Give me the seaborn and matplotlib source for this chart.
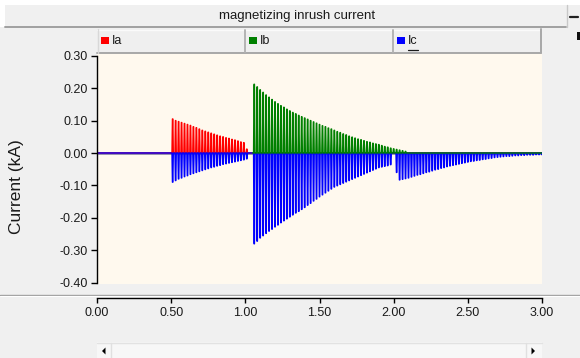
import numpy as np
import pandas as pd
import matplotlib
matplotlib.use("Agg")
import matplotlib.pyplot as plt
import seaborn as sns
from matplotlib.patches import Rectangle, Polygon
from matplotlib.lines import Line2D

# ---------------- data ----------------
title = "magnetizing inrush current"
phases = ["Ia", "Ib", "Ic"]
phase_colors = ["#FF0000", "#008000", "#0000FF"]
y_label = "Current (kA)"
x_ticks = [0.0, 0.5, 1.0, 1.5, 2.0, 2.5, 3.0]
x_tick_labels = ["0.00", "0.50", "1.00", "1.50", "2.00", "2.50", "3.00"]
y_ticks = [0.3, 0.2, 0.1, 0.0, -0.1, -0.2, -0.3, -0.4]
y_tick_labels = ["0.30", "0.20", "0.10", "0.00", "-0.10", "-0.20", "-0.30", "-0.40"]

t_end = 3.0
period = 0.02  # one pulse per 50 Hz cycle

# phase A: energised at ~0.51 s
ia_start = 0.51
ia_peaks = [0.105, 0.100, 0.097, 0.094, 0.091, 0.088, 0.085, 0.081, 0.078, 0.074,
            0.070, 0.067, 0.064, 0.061, 0.058, 0.055, 0.052, 0.050, 0.047, 0.045,
            0.042, 0.040, 0.037, 0.034, 0.032, 0.012]

# phase B: energised at ~1.06 s
ib_start = 1.06
ib_peaks = [0.212, 0.204, 0.195, 0.187, 0.179, 0.172, 0.165, 0.158, 0.152, 0.146,
            0.141, 0.135, 0.130, 0.125, 0.121, 0.116, 0.112, 0.108, 0.104, 0.100,
            0.096, 0.092, 0.088, 0.084, 0.081, 0.077, 0.074, 0.070, 0.066, 0.063,
            0.059, 0.056, 0.052, 0.049, 0.046, 0.043, 0.041, 0.038, 0.035, 0.033,
            0.030, 0.028, 0.026, 0.023, 0.020, 0.018, 0.015, 0.013, 0.011, 0.009,
            0.007, 0.005]

# phase C: three inrush events
ic_start1 = 0.51
ic_peaks1 = [-0.090, -0.085, -0.080, -0.077, -0.073, -0.070, -0.066, -0.063, -0.060, -0.057,
             -0.054, -0.051, -0.048, -0.045, -0.043, -0.040, -0.038, -0.035, -0.033, -0.031,
             -0.029, -0.027, -0.025, -0.023, -0.021, -0.018]
ic_start2 = 1.06
ic_peaks2 = [-0.280, -0.272, -0.262, -0.255, -0.248, -0.241, -0.235, -0.228, -0.222, -0.215,
             -0.209, -0.203, -0.197, -0.191, -0.185, -0.180, -0.174, -0.168, -0.161, -0.155,
             -0.148, -0.142, -0.135, -0.129, -0.123, -0.117, -0.111, -0.105, -0.101, -0.097,
             -0.093, -0.089, -0.085, -0.081, -0.077, -0.073, -0.069, -0.065, -0.061, -0.057,
             -0.053, -0.049, -0.045, -0.043, -0.041, -0.039, -0.036]
ic_start3 = 2.02
ic_peaks3 = [-0.060, -0.083, -0.081, -0.079, -0.077, -0.074, -0.071, -0.068, -0.066, -0.063,
             -0.060, -0.058, -0.055, -0.052, -0.050, -0.047, -0.045, -0.042, -0.040, -0.038,
             -0.036, -0.034, -0.032, -0.030, -0.028, -0.026, -0.025, -0.023, -0.022, -0.020,
             -0.019, -0.017, -0.016, -0.014, -0.013, -0.012, -0.011, -0.010, -0.010, -0.009,
             -0.008, -0.008, -0.007, -0.007, -0.006, -0.006, -0.006, -0.005, -0.005, -0.005]

# ---------------- build waveform table ----------------
HW = 0.0045  # half width of each drawn pulse (style)


def waveform(segments, t0):
    ts, vs = [t0], [0.0]
    for start, peaks in segments:
        for k, p in enumerate(peaks):
            tk = start + k * period
            ts += [tk - HW, tk - HW * 0.3, tk + HW * 0.3, tk + HW]
            vs += [0.0, p, p, 0.0]
    ts.append(t_end)
    vs.append(0.0)
    return ts, vs


rows = []
for name, segs, t0 in [
    ("Ia", [(ia_start, ia_peaks)], 0.0),
    ("Ib", [(ib_start, ib_peaks)], ib_start - period / 2),
    ("Ic", [(ic_start1, ic_peaks1), (ic_start2, ic_peaks2), (ic_start3, ic_peaks3)], 0.0),
]:
    ts, vs = waveform(segs, t0)
    rows.append(pd.DataFrame({"time": ts, "current": vs, "phase": name}))
df = pd.concat(rows, ignore_index=True)

# ---------------- figure ----------------
sns.set_style("ticks")
plt.rcParams["font.family"] = ["Liberation Sans", "DejaVu Sans"]

W, H = 580, 358
BG = "#F0F0F0"


def fx(x):
    return x / W


def fy(y):
    return 1 - y / H


fig = plt.figure(figsize=(W / 100, H / 100), dpi=100, facecolor=BG)
ax = fig.add_axes([fx(97), fy(284), fx(542) - fx(97), fy(53) - fy(284)])
ax.set_facecolor("#FFF9EE")

ax.axhline(0, color="#8080A0", lw=1.9, zorder=1)
sns.lineplot(data=df, x="time", y="current", hue="phase",
             hue_order=["Ia", "Ic", "Ib"],
             palette=dict(zip(phases, phase_colors)),
             sort=False, estimator=None, linewidth=1.0, legend=False, ax=ax, zorder=2)

ax.set_xlim(0, 3.0)
ax.set_ylim(-0.404, 0.3084)
ax.set_xticks(x_ticks, x_tick_labels)
ax.set_yticks(y_ticks, y_tick_labels)
ax.set_xlabel("")
ax.set_ylabel("")
for s in ["top", "right"]:
    ax.spines[s].set_visible(False)
ax.spines["left"].set_bounds(-0.4, 0.3)
ax.spines["left"].set_color("#000000")
ax.spines["left"].set_linewidth(1.0)
ax.spines["bottom"].set_position(("outward", 10))
ax.spines["bottom"].set_bounds(0, 3.0)
ax.spines["bottom"].set_color("#000000")
ax.spines["bottom"].set_linewidth(1.0)
ax.tick_params(axis="y", direction="out", length=4.3, width=1, colors="#000000",
               labelsize=9, pad=2, labelcolor="#1a1a1a")
ax.tick_params(axis="x", direction="out", length=3.6, width=1, colors="#000000",
               labelsize=9, pad=3, labelcolor="#1a1a1a")

fig.text(fx(17), fy(187), y_label, rotation=90, ha="center", va="center",
         fontsize=12.5, color="#1a1a1a")

T = fig.transFigure


def hline(y, x0, x1, color, lw):
    fig.add_artist(Line2D([fx(x0), fx(x1)], [fy(y), fy(y)], transform=T, color=color, lw=lw))


def vline(x, y0, y1, color, lw):
    fig.add_artist(Line2D([fx(x), fx(x)], [fy(y0), fy(y1)], transform=T, color=color, lw=lw))


def rect(x0, y0, x1, y1, fc, ec="none", lw=0):
    fig.add_artist(Rectangle((fx(x0), fy(y1)), fx(x1) - fx(x0), fy(y0) - fy(y1),
                             transform=T, facecolor=fc, edgecolor=ec, lw=lw))


# top white border + title bar
rect(0, 0, 580, 5, "#FFFFFF")
rect(0, 0, 5, 27, "#FFFFFF")
rect(5, 5, 566, 26, BG)
hline(26.5, 5, 566, "#A0A0A0", 1.4)
vline(566.5, 5, 27, "#C8C8C8", 1.0)
fig.text(fx(297), fy(16), title, ha="center", va="center", fontsize=9.5, color="#1a1a1a")
hline(17, 570, 578, "#202020", 1.6)
rect(577, 32, 580, 40, "#101010")

# legend bar
rect(97, 29, 541, 53, "#EFEFEF")
hline(29.5, 97, 541, "#FAFAFA", 1.0)
hline(52.5, 97, 541, "#A8A8A8", 1.4)
vline(97.5, 29, 53, "#D8D8D8", 1.0)
vline(541, 29, 53, "#A8A8A8", 1.4)
for i, (name, col) in enumerate(zip(phases, phase_colors)):
    cx = 97 + 148 * i
    if i > 0:
        vline(cx, 30, 52, "#B4B4B4", 1.4)
    rect(cx + 4, 37, cx + 12, 44, col)
    fig.text(fx(cx + 15), fy(41.5), name, ha="left", va="center", fontsize=9, color="#1a1a1a")
    if name == "Ic":
        hline(50, cx + 15, cx + 25, "#1a1a1a", 0.9)

# separator above x axis strip
hline(295, 0, 580, "#A0A0A0", 1.0)
hline(296.2, 0, 580, "#FFFFFF", 0.8)

# scroll bar
rect(97, 342, 542, 358, "#F7F7F7")
hline(342.5, 97, 542, "#E2E2E2", 1.0)
vline(110.5, 343, 358, "#E0E0E0", 1.0)
vline(525.5, 343, 358, "#E0E0E0", 1.0)
fig.add_artist(Polygon([[fx(102), fy(351)], [fx(105.5), fy(347.5)], [fx(105.5), fy(354.5)]],
                       closed=True, transform=T, facecolor="#000000", edgecolor="none"))
fig.add_artist(Polygon([[fx(535), fy(351)], [fx(531.5), fy(347.5)], [fx(531.5), fy(354.5)]],
                       closed=True, transform=T, facecolor="#000000", edgecolor="none"))

fig.savefig("out.png", dpi=100, facecolor=BG)
